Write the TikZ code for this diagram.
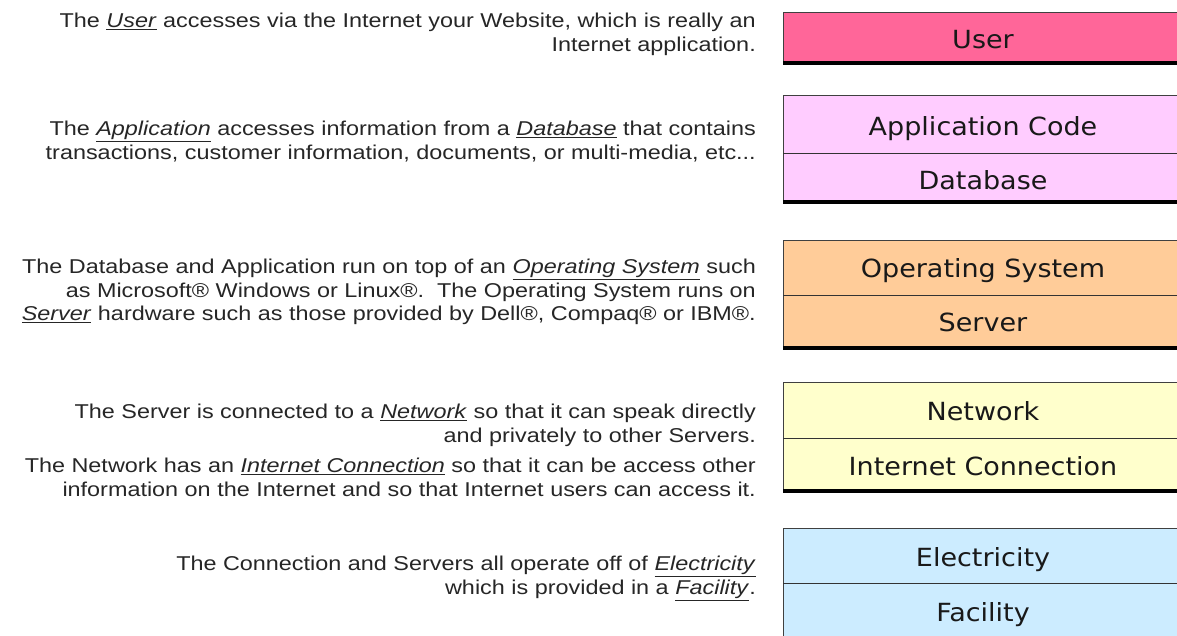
\documentclass[tikz,border=0pt]{standalone}
\usepackage{fontspec}
\usepackage{tikz}
\usetikzlibrary{positioning}
\newfontfamily\notefont[FakeStretch=1.17]{Liberation Sans}
\newfontfamily\layerfont[FakeStretch=1.08]{DejaVu Sans}
\definecolor{userpink}{RGB}{255,102,153}
\definecolor{apppink}{RGB}{255,204,255}
\definecolor{ospeach}{RGB}{255,204,153}
\definecolor{netyellow}{RGB}{255,255,204}
\definecolor{powerblue}{RGB}{204,236,255}
\newcommand{\keyword}[1]{\underline{\textit{#1}}}

\begin{document}
\begin{tikzpicture}[x = 1pt, y = -1pt]
% styles
\tikzset{layerbox/.style={draw=black!75,line width=0.8pt},
         layerfloor/.style={draw=black,line width=4pt},
         layerline/.style={draw=black!80,line width=0.9pt},
         layerlabel/.style={font=\layerfont\fontsize{25}{30}\selectfont,text=black!90,
                            inner sep=0pt,anchor=base},
         notetext/.style={font=\notefont\fontsize{20}{23.5}\selectfont,text=black!85,
                          align=right,anchor=north east,inner sep=0pt}}
\useasboundingbox (0,0) rectangle (1177,636);
% coordinates
%user
\coordinate (U1) at (783,12);
\coordinate (U2) at (1183,63);
%application and database
\coordinate (A1) at (783,95);
\coordinate (A2) at (1183,202);
\coordinate (A3) at (783,153);
%operating system and server
\coordinate (S1) at (783,240);
\coordinate (S2) at (1183,348);
\coordinate (S3) at (783,295);
%network and internet connection
\coordinate (N1) at (783,382);
\coordinate (N2) at (1183,491);
\coordinate (N3) at (783,438);
%electricity and facility
\coordinate (E1) at (783,528);
\coordinate (E2) at (1183,650);
\coordinate (E3) at (783,583);

%fill layers
\draw[layerbox, fill=userpink] (U1) rectangle (U2);
\draw[layerfloor] (U1 |- U2) -- (U2);
\draw[layerbox, fill=apppink] (A1) rectangle (A2);
\draw[layerline] (A3) -- (A3 -| A2);
\draw[layerfloor] (A1 |- A2) -- (A2);
\draw[layerbox, fill=ospeach] (S1) rectangle (S2);
\draw[layerline] (S3) -- (S3 -| S2);
\draw[layerfloor] (S1 |- S2) -- (S2);
\draw[layerbox, fill=netyellow] (N1) rectangle (N2);
\draw[layerline] (N3) -- (N3 -| N2);
\draw[layerfloor] (N1 |- N2) -- (N2);
\draw[layerbox, fill=powerblue] (E1) rectangle (E2);
\draw[layerline] (E3) -- (E3 -| E2);

%layer labels
\node[layerlabel] (user) at (983,49) {User};
\node[layerlabel] (app) at (983,136) {Application Code};
\node[layerlabel] (db) at (983,190) {Database};
\node[layerlabel] (os) at (983,277) {Operating System};
\node[layerlabel] (server) at (983,331) {Server};
\node[layerlabel] (net) at (983,420) {Network};
\node[layerlabel] (inet) at (983,475) {Internet Connection};
\node[layerlabel] (power) at (983,566) {Electricity};
\node[layerlabel] (facility) at (983,621) {Facility};

%notes
\node[notetext] (usernote) at (756,13)
  {The \keyword{User} accesses via the Internet your Website, which is really an\\
   Internet application.};
\node[notetext] (appnote) at (756,121)
  {The \keyword{Application} accesses information from a \keyword{Database} that contains\\
   transactions, customer information, documents, or multi-media, etc...};
\node[notetext] (osnote) at (756,259)
  {The Database and Application run on top of an \keyword{Operating System} such\\
   as Microsoft\textregistered{} Windows or Linux\textregistered.\ \ The Operating System runs on\\
   \keyword{Server} hardware such as those provided by Dell\textregistered, Compaq\textregistered{} or IBM\textregistered.};
\node[notetext] (netnote) at (756,404)
  {The Server is connected to a \keyword{Network} so that it can speak directly\\
   and privately to other Servers.};
\node[notetext] (inetnote) at (756,458)
  {The Network has an \keyword{Internet Connection} so that it can be access other\\
   information on the Internet and so that Internet users can access it.};
\node[notetext] (powernote) at (756,556)
  {The Connection and Servers all operate off of \keyword{Electricity}\\
   which is provided in a \keyword{Facility}.};
\end{tikzpicture}
\end{document}
